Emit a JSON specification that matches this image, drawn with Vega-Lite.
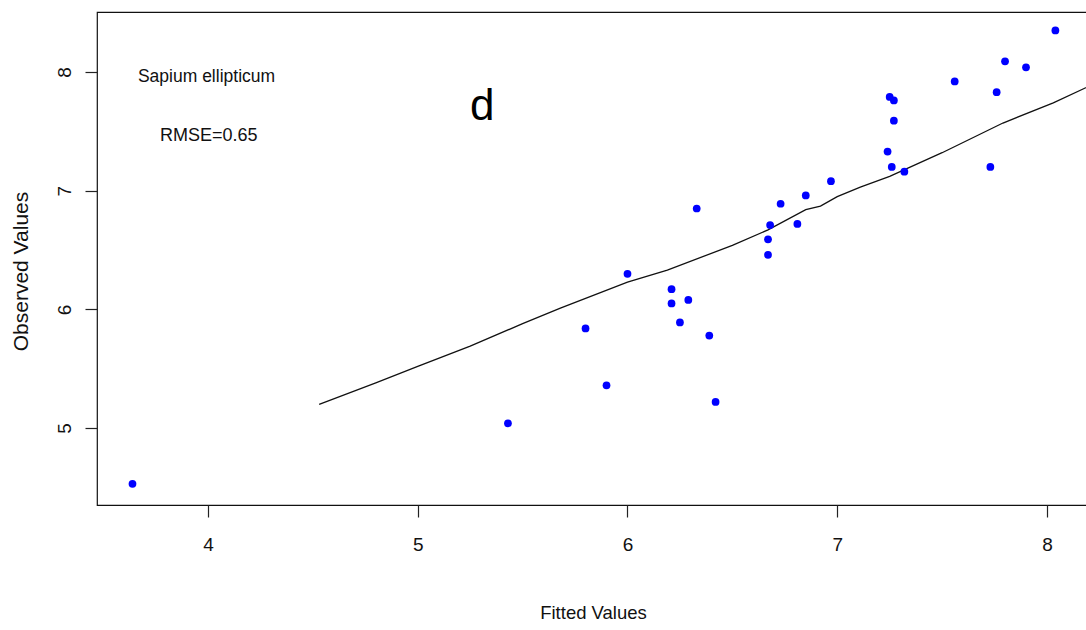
{
  "$schema": "https://vega.github.io/schema/vega-lite/v6.json",
  "width": 992,
  "height": 493,
  "autosize": {"type": "none"},
  "padding": {"left": 97, "top": 12, "right": 0, "bottom": 125},
  "background": "white",
  "config": {
    "view": {"stroke": "#111111", "strokeWidth": 1.2},
    "axis": {"grid": false, "domain": false, "tickColor": "#222222", "tickSize": 12, "tickWidth": 1.2, "labelColor": "#111111", "titleColor": "#111111", "titleFontWeight": "normal"}
  },
  "datasets": {
    "pts": [
      {"fitted": 3.64, "observed": 4.53},
      {"fitted": 5.43, "observed": 5.04},
      {"fitted": 5.80, "observed": 5.84},
      {"fitted": 5.90, "observed": 5.36},
      {"fitted": 6.00, "observed": 6.30},
      {"fitted": 6.21, "observed": 6.17},
      {"fitted": 6.21, "observed": 6.05},
      {"fitted": 6.29, "observed": 6.08},
      {"fitted": 6.25, "observed": 5.89},
      {"fitted": 6.39, "observed": 5.78},
      {"fitted": 6.42, "observed": 5.22},
      {"fitted": 6.33, "observed": 6.85},
      {"fitted": 6.67, "observed": 6.46},
      {"fitted": 6.67, "observed": 6.59},
      {"fitted": 6.68, "observed": 6.71},
      {"fitted": 6.73, "observed": 6.89},
      {"fitted": 6.81, "observed": 6.72},
      {"fitted": 6.85, "observed": 6.96},
      {"fitted": 6.97, "observed": 7.08},
      {"fitted": 7.24, "observed": 7.33},
      {"fitted": 7.26, "observed": 7.20},
      {"fitted": 7.25, "observed": 7.79},
      {"fitted": 7.27, "observed": 7.76},
      {"fitted": 7.27, "observed": 7.59},
      {"fitted": 7.32, "observed": 7.16},
      {"fitted": 7.56, "observed": 7.92},
      {"fitted": 7.73, "observed": 7.20},
      {"fitted": 7.76, "observed": 7.83},
      {"fitted": 7.80, "observed": 8.09},
      {"fitted": 7.90, "observed": 8.04},
      {"fitted": 8.04, "observed": 8.35}
    ],
    "fit": [
      {"fitted": 4.53, "observed": 5.20},
      {"fitted": 4.80, "observed": 5.38},
      {"fitted": 5.00, "observed": 5.52},
      {"fitted": 5.25, "observed": 5.69},
      {"fitted": 5.50, "observed": 5.88},
      {"fitted": 5.68, "observed": 6.01},
      {"fitted": 6.00, "observed": 6.23},
      {"fitted": 6.19, "observed": 6.33},
      {"fitted": 6.50, "observed": 6.54},
      {"fitted": 6.67, "observed": 6.67},
      {"fitted": 6.85, "observed": 6.84},
      {"fitted": 6.92, "observed": 6.87},
      {"fitted": 7.00, "observed": 6.95},
      {"fitted": 7.11, "observed": 7.03},
      {"fitted": 7.25, "observed": 7.12},
      {"fitted": 7.50, "observed": 7.32},
      {"fitted": 7.79, "observed": 7.57},
      {"fitted": 8.03, "observed": 7.74},
      {"fitted": 8.20, "observed": 7.88}
    ]
  },
  "layer": [
    {
      "data": {"name": "fit"},
      "mark": {"type": "line", "color": "#111111", "strokeWidth": 1.3},
      "encoding": {
        "x": {"field": "fitted", "type": "quantitative", "scale": {"domain": [3.4708, 8.2003], "nice": false, "zero": false},
          "axis": {"values": [4, 5, 6, 7, 8], "format": "d", "title": "Fitted Values", "labelFont": "Liberation Sans", "labelFontSize": 19, "labelPadding": 18, "labelBaseline": "top", "titleFont": "Liberation Sans", "titleFontSize": 18.5, "titleBaseline": "alphabetic", "titleY": 113, "titleX": 496}},
        "y": {"field": "observed", "type": "quantitative", "scale": {"domain": [4.352, 8.5055], "nice": false, "zero": false},
          "axis": {"values": [5, 6, 7, 8], "format": "d", "title": "Observed Values", "labelAngle": -90, "labelAlign": "center", "labelBaseline": "alphabetic", "labelPadding": 15, "labelFont": "Liberation Sans", "labelFontSize": 19, "titleFont": "Liberation Sans", "titleFontSize": 21, "titleBaseline": "alphabetic", "titleX": -70, "titleY": 259, "titleAngle": -90}}
      }
    },
    {
      "data": {"name": "pts"},
      "mark": {"type": "point", "filled": true, "color": "#0000ff", "opacity": 1, "size": 60},
      "encoding": {
        "x": {"field": "fitted", "type": "quantitative"},
        "y": {"field": "observed", "type": "quantitative"}
      }
    },
    {
      "data": {"values": [{"label": "Sapium ellipticum"}]},
      "mark": {"type": "text", "align": "left", "baseline": "alphabetic", "font": "Liberation Sans", "fontSize": 17.5, "color": "#111111"},
      "encoding": {"x": {"datum": 3.666, "type": "quantitative"}, "y": {"datum": 7.916, "type": "quantitative"}, "text": {"field": "label"}}
    },
    {
      "data": {"values": [{"label": "RMSE=0.65"}]},
      "mark": {"type": "text", "align": "left", "baseline": "alphabetic", "font": "Liberation Sans", "fontSize": 18, "color": "#111111"},
      "encoding": {"x": {"datum": 3.771, "type": "quantitative"}, "y": {"datum": 7.419, "type": "quantitative"}, "text": {"field": "label"}}
    },
    {
      "data": {"values": [{"label": "d"}]},
      "mark": {"type": "text", "align": "center", "baseline": "alphabetic", "font": "Liberation Sans", "fontSize": 44, "color": "#000000"},
      "encoding": {"x": {"datum": 5.307, "type": "quantitative"}, "y": {"datum": 7.596, "type": "quantitative"}, "text": {"field": "label"}}
    }
  ]
}
